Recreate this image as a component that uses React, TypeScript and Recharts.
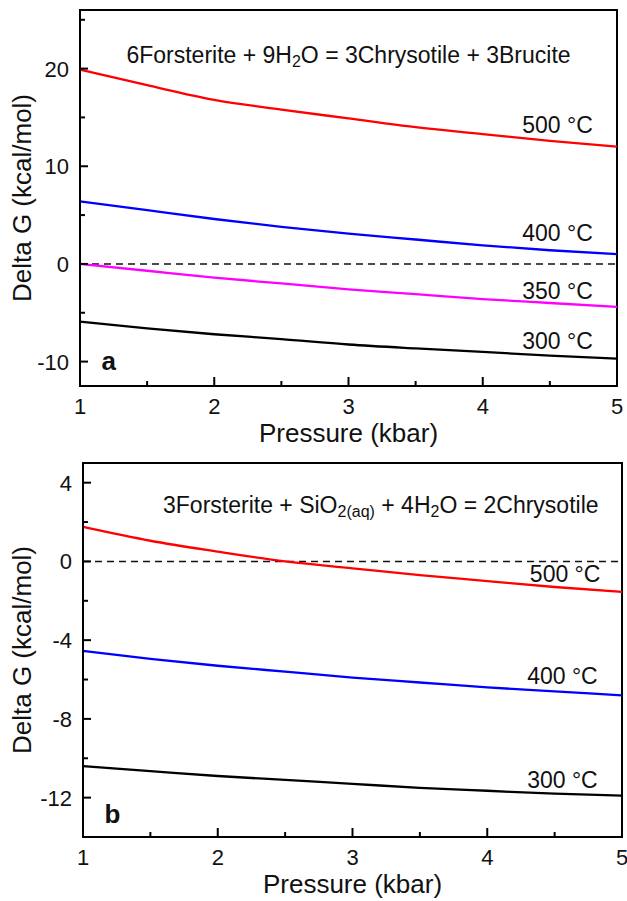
import React from 'react';
import { LineChart, Line, XAxis, YAxis, ReferenceLine, ReferenceArea, ReferenceDot } from 'recharts';

const FONT = '"Liberation Sans", Arial, Helvetica, sans-serif';

const pressure = [1, 1.5, 2, 2.5, 3, 3.5, 4, 4.5, 5];

// (a) 6Forsterite + 9H2O = 3Chrysotile + 3Brucite
const a500 = [19.9, 18.3, 16.8, 15.8, 14.9, 14.0, 13.3, 12.6, 12.0];
const a400 = [6.4, 5.5, 4.6, 3.8, 3.1, 2.5, 1.9, 1.4, 1.0];
const a350 = [0, -0.7, -1.4, -2.0, -2.6, -3.1, -3.6, -4.0, -4.4];
const a300 = [-5.9, -6.6, -7.2, -7.7, -8.25, -8.65, -9.0, -9.4, -9.7];

// (b) 3Forsterite + SiO2(aq) + 4H2O = 2Chrysotile
const b500 = [1.75, 1.05, 0.5, 0.0, -0.35, -0.7, -1.0, -1.3, -1.55];
const b400 = [-4.55, -4.95, -5.3, -5.6, -5.9, -6.15, -6.4, -6.6, -6.8];
const b300 = [-10.4, -10.65, -10.9, -11.1, -11.3, -11.5, -11.65, -11.8, -11.9];

const xTicks = [1, 1.5, 2, 2.5, 3, 3.5, 4, 4.5, 5];
const xMajor = [1, 2, 3, 4, 5];
const aTicks = [-10, -5, 0, 5, 10, 15, 20, 25];
const aMajor = [-10, 0, 10, 20];
const bTicks = [-12, -10, -8, -6, -4, -2, 0, 2, 4];
const bMajor = [-12, -8, -4, 0, 4];

// curve labels, anchored at their right end (pressure, delta G)
const aLabels = [
  { text: '500 °C', p: 4.82, g: 13.4 },
  { text: '400 °C', p: 4.82, g: 2.35 },
  { text: '350 °C', p: 4.82, g: -3.57 },
  { text: '300 °C', p: 4.82, g: -8.67 },
];
const bLabels = [
  { text: '500 °C', p: 4.84, g: -1.04 },
  { text: '400 °C', p: 4.82, g: -6.23 },
  { text: '300 °C', p: 4.82, g: -11.5 },
];

const toRows = (series: Record<string, number[]>) =>
  pressure.map((p, i) => {
    const row: Record<string, number> = { p };
    Object.keys(series).forEach((k) => (row[k] = series[k][i]));
    return row;
  });

const dataA = toRows({ t500: a500, t400: a400, t350: a350, t300: a300 });
const dataB = toRows({ t500: b500, t400: b400, t300: b300 });

const makeYTick = (major: number[]) => (props: any) => {
  const { x, y, payload } = props;
  const isMajor = major.includes(payload.value);
  return (
    <g>
      <line x1={x} x2={x + (isMajor ? 8 : 5)} y1={y} y2={y} stroke="#000" strokeWidth={2} />
      {isMajor && (
        <text x={x - 11} y={y} dy="0.36em" textAnchor="end" fontSize={22} fontFamily={FONT} fill="#111">
          {payload.value}
        </text>
      )}
    </g>
  );
};

const XTick = (props: any) => {
  const { x, y, payload } = props;
  const isMajor = xMajor.includes(payload.value);
  return (
    <g>
      <line x1={x} x2={x} y1={y} y2={y - (isMajor ? 9 : 5)} stroke="#000" strokeWidth={2} />
      {isMajor && (
        <text x={x} y={y + 12} dy="0.72em" textAnchor="middle" fontSize={22} fontFamily={FONT} fill="#111">
          {payload.value}
        </text>
      )}
    </g>
  );
};

const YTitle = (props: any) => {
  const vb = props.viewBox;
  const cx = vb.x + 22;
  const cy = vb.y + vb.height / 2;
  return (
    <text transform={`translate(${cx},${cy}) rotate(-90)`} dy="0.36em" textAnchor="middle" fontSize={26} fontFamily={FONT} fill="#111">
      Delta G (kcal/mol)
    </text>
  );
};

const XTitle = (props: any) => {
  const vb = props.viewBox;
  return (
    <text x={vb.x + vb.width / 2} y={vb.y + 47} dy="0.36em" textAnchor="middle" fontSize={26} fontFamily={FONT} fill="#111">
      Pressure (kbar)
    </text>
  );
};

const curveLabel = (text: string) => (props: any) => (
  <text x={props.cx} y={props.cy} textAnchor="end" fontSize={23} fontFamily={FONT} fill="#111">
    {text}
  </text>
);

const panelLetter = (text: string) => (props: any) => (
  <text x={props.cx} y={props.cy} fontSize={26} fontWeight="bold" fontFamily={FONT} fill="#111">
    {text}
  </text>
);

const reactionA = (props: any) => (
  <text x={props.cx} y={props.cy} textAnchor="middle" fontSize={23} fontFamily={FONT} fill="#111">
    6Forsterite + 9H<tspan fontSize={16} dy={4}>2</tspan>
    <tspan dy={-4}>O = 3Chrysotile + 3Brucite</tspan>
  </text>
);

const reactionB = (props: any) => (
  <text x={props.cx} y={props.cy} textAnchor="middle" fontSize={23} fontFamily={FONT} fill="#111">
    3Forsterite + SiO<tspan fontSize={16} dy={4}>2(aq)</tspan>
    <tspan dy={-4}> + 4H</tspan>
    <tspan fontSize={16} dy={4}>2</tspan>
    <tspan dy={-4}>O = 2Chrysotile</tspan>
  </text>
);

const LW = 2.3;

export default function App() {
  return (
    <div style={{ position: 'absolute', left: 0, top: 0, width: 627, height: 901, background: '#fff' }}>
      <LineChart width={627} height={450} data={dataA} margin={{ top: 10, right: 10, bottom: 0, left: 0 }}>
        <XAxis
          dataKey="p"
          type="number"
          domain={[1, 5]}
          ticks={xTicks}
          interval={0}
          tickSize={0}
          tickMargin={0}
          tickLine={false}
          tick={XTick}
          height={64}
          axisLine={{ stroke: '#000', strokeWidth: 2 }}
          label={XTitle}
        />
        <YAxis
          type="number"
          domain={[-12.5, 26]}
          ticks={aTicks}
          interval={0}
          tickSize={0}
          tickMargin={0}
          tickLine={false}
          tick={makeYTick(aMajor)}
          width={80}
          allowDataOverflow
          axisLine={{ stroke: '#000', strokeWidth: 2 }}
          label={YTitle}
        />
        <ReferenceArea x1={1} x2={5} y1={-12.5} y2={26} fill="none" stroke="#000" strokeWidth={2} />
        <ReferenceLine y={0} stroke="#111" strokeWidth={1.5} strokeDasharray="7 5" />
        <Line dataKey="t500" type="monotone" stroke="#ff0000" strokeWidth={LW} dot={false} isAnimationActive={false} />
        <Line dataKey="t400" type="monotone" stroke="#0000ff" strokeWidth={LW} dot={false} isAnimationActive={false} />
        <Line dataKey="t350" type="monotone" stroke="#ff00ff" strokeWidth={LW} dot={false} isAnimationActive={false} />
        <Line dataKey="t300" type="monotone" stroke="#000000" strokeWidth={LW} dot={false} isAnimationActive={false} />
        {aLabels.map((l) => (
          <ReferenceDot key={l.text} x={l.p} y={l.g} r={0} shape={curveLabel(l.text)} />
        ))}
        <ReferenceDot x={3} y={20.6} r={0} shape={reactionA} />
        <ReferenceDot x={1.16} y={-10.9} r={0} shape={panelLetter('a')} />
      </LineChart>
      <LineChart width={627} height={451} data={dataB} margin={{ top: 13, right: 5, bottom: 0, left: 0 }}>
        <XAxis
          dataKey="p"
          type="number"
          domain={[1, 5]}
          ticks={xTicks}
          interval={0}
          tickSize={0}
          tickMargin={0}
          tickLine={false}
          tick={XTick}
          height={64}
          axisLine={{ stroke: '#000', strokeWidth: 2 }}
          label={XTitle}
        />
        <YAxis
          type="number"
          domain={[-14, 5]}
          ticks={bTicks}
          interval={0}
          tickSize={0}
          tickMargin={0}
          tickLine={false}
          tick={makeYTick(bMajor)}
          width={83}
          allowDataOverflow
          axisLine={{ stroke: '#000', strokeWidth: 2 }}
          label={YTitle}
        />
        <ReferenceArea x1={1} x2={5} y1={-14} y2={5} fill="none" stroke="#000" strokeWidth={2} />
        <ReferenceLine y={0} stroke="#111" strokeWidth={1.5} strokeDasharray="7 5" />
        <Line dataKey="t500" type="monotone" stroke="#ff0000" strokeWidth={LW} dot={false} isAnimationActive={false} />
        <Line dataKey="t400" type="monotone" stroke="#0000ff" strokeWidth={LW} dot={false} isAnimationActive={false} />
        <Line dataKey="t300" type="monotone" stroke="#000000" strokeWidth={LW} dot={false} isAnimationActive={false} />
        {bLabels.map((l) => (
          <ReferenceDot key={l.text} x={l.p} y={l.g} r={0} shape={curveLabel(l.text)} />
        ))}
        <ReferenceDot x={3.21} y={2.47} r={0} shape={reactionB} />
        <ReferenceDot x={1.16} y={-13.3} r={0} shape={panelLetter('b')} />
      </LineChart>
    </div>
  );
}
